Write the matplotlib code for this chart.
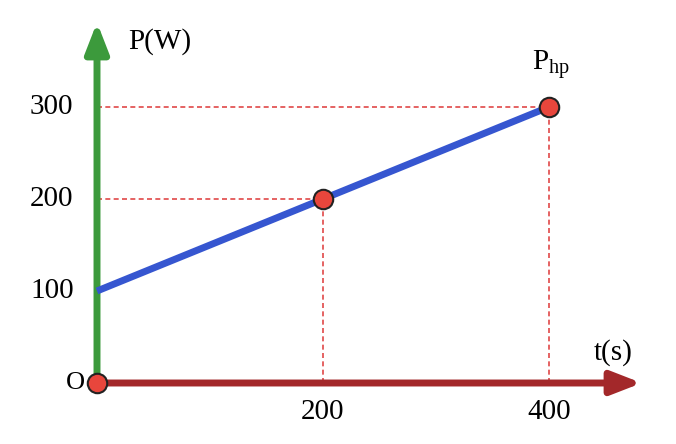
import matplotlib.pyplot as plt

t_pts = [0, 200, 400]
p_pts = [100, 200, 300]
marked_t = [200, 400]
marked_p = [200, 300]
y_ticks = [100, 200, 300]
x_ticks = [200, 400]

plt.rcParams['font.family'] = ['Liberation Serif', 'DejaVu Serif']

fig = plt.figure(figsize=(6.76, 4.44), dpi=100)
ax = fig.add_axes([0, 0, 1, 1])
ax.set_xlim(-97 / 1.13, (676 - 97) / 1.13)
ax.set_ylim(-(444 - 383) / 0.92, 383 / 0.92)
ax.axis('off')

# dashed guides
for t, p in zip(marked_t, marked_p):
    ax.plot([0, t], [p, p], color='#e04848', lw=1.2, dashes=(3, 2))
    ax.plot([t, t], [0, p], color='#e04848', lw=1.2, dashes=(3, 2))

# axes arrows
ax.annotate('', xy=(482, 0), xytext=(0, 0),
            arrowprops=dict(arrowstyle='-|>,head_width=0.7,head_length=1.8',
                            color='#a3282a', lw=5, shrinkA=0, shrinkB=0))
ax.annotate('', xy=(0, 392), xytext=(0, 0),
            arrowprops=dict(arrowstyle='-|>,head_width=0.7,head_length=1.8',
                            color='#3c9a3c', lw=5, shrinkA=0, shrinkB=0))

ax.plot(t_pts, p_pts, color='#3656d0', lw=5, solid_capstyle='butt', zorder=3)
ax.plot(marked_t, marked_p, 'o', ms=14, mfc='#e8463c', mec='#222222', mew=1.5, zorder=4)
ax.plot([0], [0], 'o', ms=14, mfc='#e8463c', mec='#222222', mew=1.5, zorder=4)

for v in y_ticks:
    ax.text(-40, v, str(v), ha='center', va='center', fontsize=21)
for v in x_ticks:
    ax.text(v, -31, str(v), ha='center', va='center', fontsize=21)
ax.text(-19, 0, 'O', ha='center', va='center', fontsize=19)
ax.text(28, 371, 'P(W)', ha='left', va='center', fontsize=21)
ax.text(440, 33, 't(s)', ha='left', va='center', fontsize=21)
ax.text(385, 345, r'P$_{\mathregular{hp}}$', ha='left', va='center', fontsize=21)

fig.savefig('out.png', dpi=100)
